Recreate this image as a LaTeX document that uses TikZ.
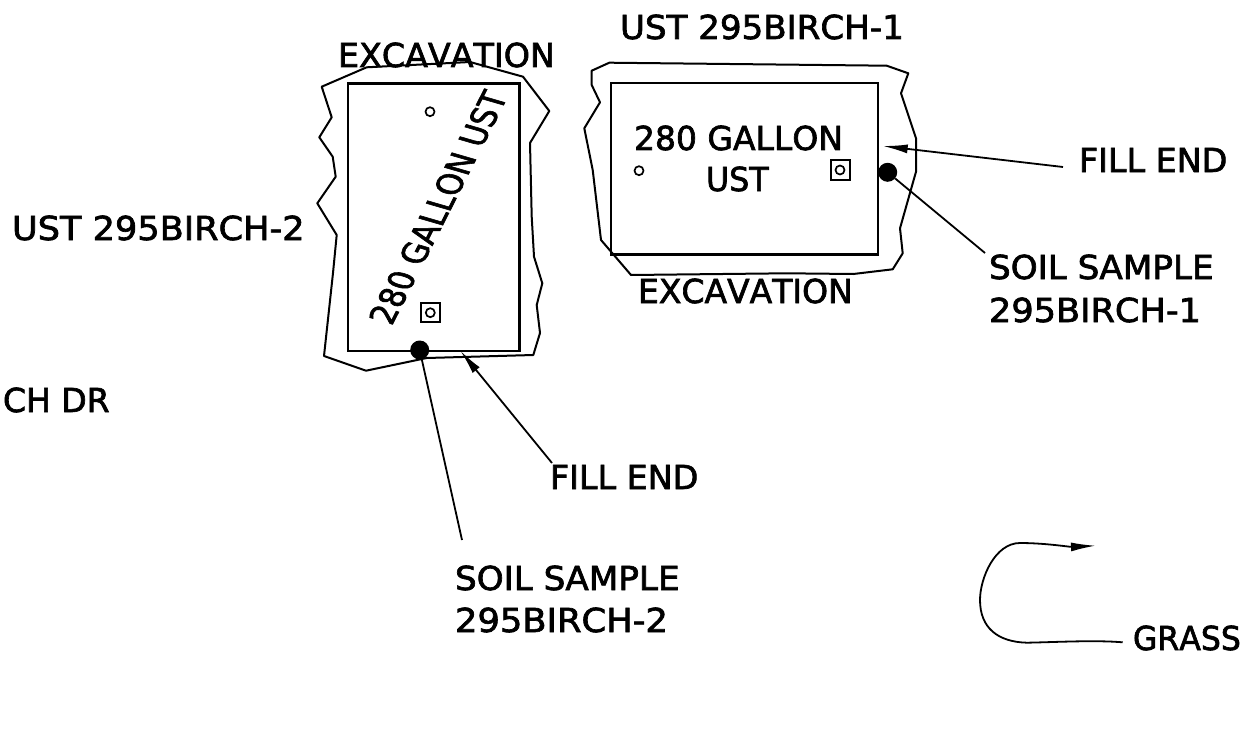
\documentclass[tikz,border=0pt]{standalone}
\usepackage{fontspec}
\setmainfont[Kerning=Off,FakeBold=2]{DejaVu Sans}
\usetikzlibrary{arrows.meta}
\tikzset{
  lab/.style={anchor=base west,inner sep=0pt,outer sep=0pt,font=\fontsize{33}{33}\selectfont},
  outline/.style={line width=2pt,line join=round},
  tank/.style={line width=2.4pt},
  conn/.style={line width=1.8pt},
  tiparrow/.style={conn,-{Latex[length=25pt,width=9pt]}},
  dotmark/.style={circle,fill=black,draw=none,minimum size=19pt,inner sep=0pt},
  valve/.style={draw,line width=2pt,minimum size=19pt,inner sep=0pt},
  port/.style={circle,draw,line width=1.7pt,minimum size=9pt,inner sep=0pt}
}
\begin{document}
\begin{tikzpicture}[x=1pt,y=-1pt]
\useasboundingbox (0,0) rectangle (1246,746);
% left excavation
\draw[outline] (321.7,86.7) -- (366.7,67.3) -- (470,62) -- (523,76.7) -- (549.3,111) -- (530,143) -- (531.7,216.7) -- (534,256.7) -- (542.3,283.3) -- (536.7,305) -- (540,333) -- (533.3,355) -- (426.7,358) -- (366,370.7) -- (324,356) -- (333,273) -- (336.7,235) -- (317.3,203.3) -- (335.7,176.7) -- (332.7,156.7) -- (319.3,137.3) -- (331.7,117.3) -- cycle;
\node[draw,tank,anchor=north west,minimum width=171.6pt,minimum height=267.7pt,inner sep=0pt] (tankL) at (346.7,82.3) {};
\node[port] (portL) at (430,111.7) {};
\node[valve] (valveL) at (430.3,312.7) {};
\node[port] (valvePortL) at (430.3,312.7) {};
\node[dotmark] (dotL) at (419.7,350) {};
\begin{scope}[cm={.41,.81,-1.0,.29,(438,207.5)}]
\node[inner sep=0pt,font=\fontsize{33}{33}\selectfont,transform shape] (textL) at (0,0) {280 GALLON UST};
\end{scope}
% right excavation
\draw[outline] (609.3,62.7) -- (886.7,65.7) -- (908.3,73.3) -- (901,93.3) -- (916,138.3) -- (916,171.7) -- (900,228.3) -- (902.7,253.3) -- (892.7,269.3) -- (853.3,274) -- (786.7,273.3) -- (631,275) -- (601,240) -- (592.7,170) -- (584.3,128.3) -- (600,102.3) -- (591.7,85) -- (591.7,70.7) -- cycle;
\node[draw,tank,anchor=north west,minimum width=266.7pt,minimum height=171.6pt,inner sep=0pt] (tankR) at (610,81.7) {};
\node[port] (portR) at (639,170.7) {};
\node[valve] (valveR) at (840,170) {};
\node[port] (valvePortR) at (840,170) {};
\node[dotmark] (dotR) at (887.7,172.3) {};
% labels
\node[lab,xscale=1.033] (ust1) at (620,39) {UST 295BIRCH-1};
\node[lab,xscale=1.01] (excL) at (338,67) {EXCAVATION};
\node[lab,xscale=1.065] (ust2) at (12,240) {UST 295BIRCH-2};
\node[lab] (dr) at (3,412) {CH DR};
\node[lab,xscale=1.01] (fillR) at (1079,172) {FILL END};
\node[lab,xscale=1.037] (soilRa) at (989,279) {SOIL SAMPLE};
\node[lab,xscale=1.065] (soilRb) at (989,322) {295BIRCH-1};
\node[lab] (excR) at (638,303) {EXCAVATION};
\node[lab,xscale=1.01] (fillL) at (550,489) {FILL END};
\node[lab,xscale=1.037] (soilLa) at (455,590) {SOIL SAMPLE};
\node[lab,xscale=1.07] (soilLb) at (455,632) {295BIRCH-2};
\node[lab,xscale=.955] (grass) at (1133,650) {GRASS};
\node[lab] (galR) at (634,150) {280 GALLON};
\node[lab,xscale=.96] (ustR) at (706,191) {UST};
% connectors
\coordinate (tailFillR) at (1063,167);
\coordinate (tipFillR) at (882.7,146);
\coordinate (tailFillL) at (552,463);
\coordinate (tipFillL) at (460.3,350.7);
\coordinate (tailSoilR) at (985,253);
\coordinate (tailSoilL) at (462,540);
\coordinate (tailGrass) at (1122.7,642.3);
\coordinate (tipGrass) at (1096,545.7);
\draw[tiparrow] (tailFillR) -- (tipFillR);
\draw[tiparrow] (tailFillL) -- (tipFillL);
\draw[conn] (dotR) -- (tailSoilR);
\draw[conn] (dotL) -- (tailSoilL);
\draw[tiparrow] (tailGrass) .. controls (1095,640) and (1060,642) .. (1027,642.7)
  .. controls (998,642) and (980,628) .. (980,600)
  .. controls (980,578) and (995,543) .. (1020,543)
  .. controls (1045,543) and (1070,547) .. (tipGrass);
\end{tikzpicture}
\end{document}
